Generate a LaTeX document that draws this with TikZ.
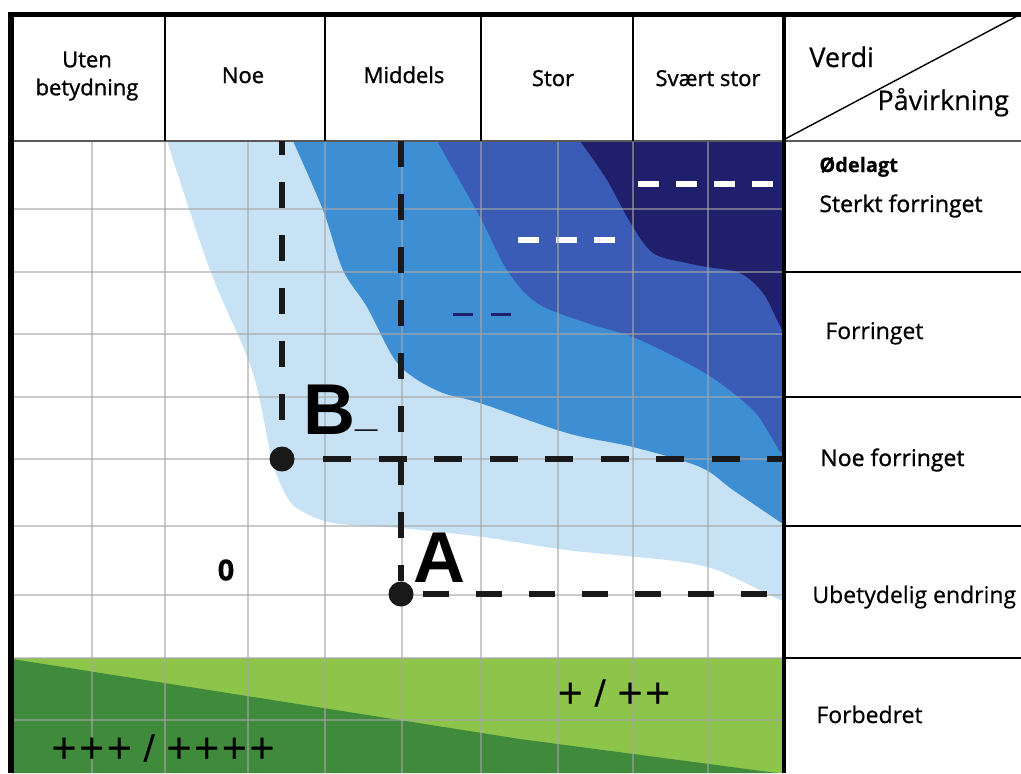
\documentclass[tikz,border=0pt]{standalone}
\usepackage{fontspec}
\setmainfont[FakeBold=0.5]{Open Sans}
\newfontfamily\semifont[FakeBold=1.2]{Open Sans}
\newfontfamily\labfont{Liberation Sans}
\newfontfamily\plusfont[FakeBold=0.8]{DejaVu Sans}
\definecolor{paleblue}{HTML}{C8E2F5}
\definecolor{midblue}{HTML}{3E8ED3}
\definecolor{deepblue}{HTML}{3A5CB6}
\definecolor{navyblue}{HTML}{1F1F6C}
\definecolor{lightgreen}{HTML}{8DC54B}
\definecolor{darkgreen}{HTML}{3F8A3B}

\begin{document}
\begin{tikzpicture}[x=0.5pt,y=-0.5pt,line join=round,
  gridline/.style={draw=black!35,line width=0.6pt,opacity=0.6},
  guide/.style={draw=black!90,line width=3.2pt,dash pattern=on 13pt off 13.5pt},
  dot/.style={circle,fill=black!90,inner sep=0pt,minimum size=12.5pt},
  colhead/.style={font=\semifont\fontsize{11}{14}\selectfont,anchor=base,inner sep=0pt},
  rowhead/.style={font=\fontsize{11.5}{14}\selectfont,anchor=base west,inner sep=0pt},
  pointlabel/.style={font=\labfont\bfseries\fontsize{36}{40}\selectfont,anchor=base west,inner sep=0pt},
  scoremark/.style={font=\plusfont\fontsize{16.5}{19}\selectfont}]
\useasboundingbox (0,0) rectangle (1021,773);
% coloured zones
\fill[paleblue] (783,141) -- (783,600) -- plot[smooth,tension=0.55] coordinates {(780,600) (733,577) (707,567) (667,560) (567,550) (483,537) (400,528) (333,523) (300,510) (287,497) (272,460) (252,370) (210,270) (167,141)} -- cycle;
\fill[midblue] (783,141) -- (783,523) -- plot[smooth,tension=0.55] coordinates {(780,522) (733,490) (700,467) (633,447) (567,433) (480,403) (443,393) (413,377) (393,357) (367,307) (343,270) (323,210) (293,141)} -- cycle;
\fill[deepblue] (783,141) -- (783,453) -- plot[smooth,tension=0.55] coordinates {(780,452) (767,430) (753,410) (720,383) (687,363) (633,337) (587,323) (537,303) (507,270) (480,217) (437,141)} -- cycle;
\fill[navyblue] (783,141) -- (783,330) -- plot[smooth,tension=0.55] coordinates {(782,330) (777,320) (763,293) (740,273) (707,267) (687,263) (653,253) (630,222) (607,180) (580,141)} -- cycle;
\fill[lightgreen] (12,658) rectangle (783,773);
\fill[darkgreen] (12,659) -- (520,739) -- (777,773) -- (12,773) -- cycle;
% small dashes in the zones
\draw[white,line width=3pt,dash pattern=on 10.5pt off 8.5pt] (638,184) -- (773,184);
\draw[white,line width=3pt,dash pattern=on 10.5pt off 8.5pt] (518,240) -- (615,240);
\draw[navyblue,line width=1.6pt,dash pattern=on 10pt off 9pt] (453,314.5) -- (512,314.5);
% grid
\foreach \x in {92,165,248,325,402,481,558,633,708}
  \draw[gridline] (\x,142) -- (\x,773);
\foreach \y in {209,272,334,397,459,526,595,658,720}
  \draw[gridline] (13,\y) -- (783,\y);
% frame
\draw[black!65,line width=1.2pt] (10,141) -- (1021,141);
\foreach \x in {165,325,481,633}
  \draw[line width=0.7pt] (\x,14) -- (\x,141);
\foreach \y in {272,397,526,658}
  \draw[line width=0.8pt] (784,\y) -- (1021,\y);
\draw[line width=0.7pt] (785,139) -- (1021,14);
\draw[line width=2.6pt] (8,14.5) -- (1021,14.5);
\draw[line width=3pt] (11,13) -- (11,773);
\draw[line width=2pt] (784,13) -- (784,773);
% points and guide lines
\node[dot] (Bdot) at (282,459) {};
\node[dot] (Adot) at (401,594) {};
\coordinate (Btop) at (282,141);
\coordinate (Bend) at (783,459);
\coordinate (Atop) at (401,141);
\coordinate (Aend) at (783,594);
\draw[guide,dash phase=6pt] (Btop) -- (Bdot);
\draw[guide,dash pattern=on 14pt off 13.75pt,shorten <=14.25pt] (Bdot) -- (Bend);
\draw[guide] (Atop) -- (Adot);
\draw[guide,shorten <=4.75pt] (Adot) -- (Aend);
\node[pointlabel] (Blab) at (303,434) {B\raisebox{4pt}{\fontsize{20}{22}\selectfont\_}};
\node[pointlabel] (Alab) at (413,582) {A};
% headers
\node[colhead,anchor=center,align=center] (uten) at (87,76) {Uten\\betydning};
\node[colhead] (noe) at (243,83) {Noe};
\node[colhead] (middels) at (404,83) {Middels};
\node[colhead] (stor) at (553,86) {Stor};
\node[colhead] (svart) at (708,86) {Svært stor};
\node[rowhead,font=\fontsize{13.5}{16}\selectfont] (verdi) at (809,67) {Verdi};
\node[rowhead,font=\fontsize{13.5}{16}\selectfont] (pavirk) at (877,110) {Påvirkning};
\node[rowhead,font=\bfseries\fontsize{10}{12}\selectfont] (odelagt) at (819,172) {Ødelagt};
\node[rowhead,font=\semifont\fontsize{11.5}{14}\selectfont] (sterkt) at (819,212) {Sterkt forringet};
\node[rowhead] (forringet) at (825,339) {Forringet};
\node[rowhead,font=\semifont\fontsize{11.5}{14}\selectfont] (noefor) at (820,466) {Noe forringet};
\node[rowhead] (ubetyd) at (812,603) {Ubetydelig endring};
\node[rowhead] (forbedret) at (816,723) {Forbedret};
% values
\node[font=\bfseries\fontsize{14.5}{16}\selectfont] (zero) at (226,570) {0};
\node[scoremark] (plusmid) at (614,693) {+ / ++};
\node[scoremark] (plusbig) at (163,748) {+++ / ++++};
\end{tikzpicture}
\end{document}
